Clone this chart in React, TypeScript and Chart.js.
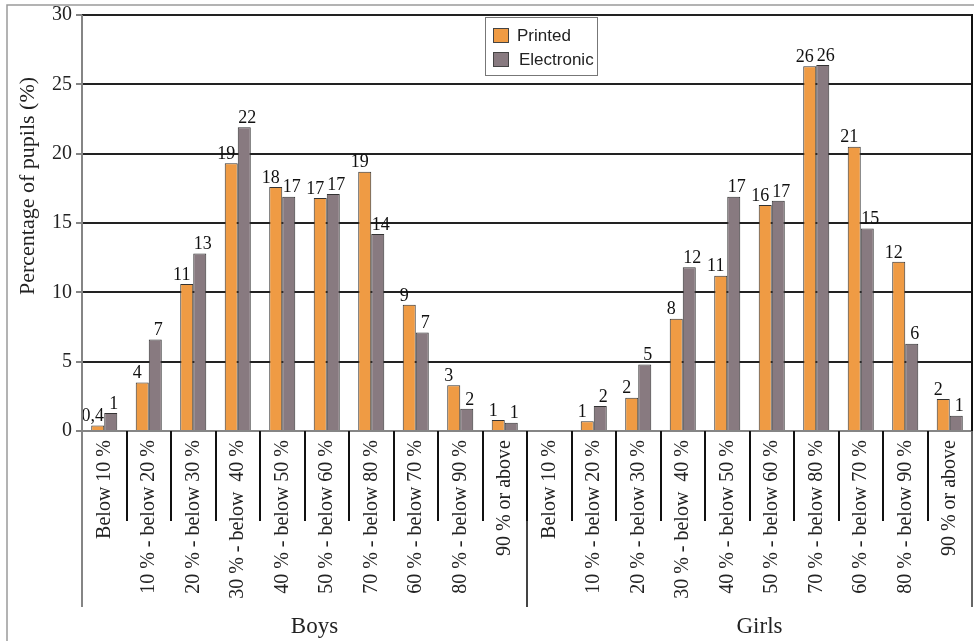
import React, { useEffect, useRef } from "react";
import { Chart, registerables } from "chart.js";

Chart.register(...registerables);

const categories = [
  "Below 10 %",
  "10 % - below 20 %",
  "20 % - below 30 %",
  "30 % - below  40 %",
  "40 % - below 50 %",
  "50 % - below 60 %",
  "70 % - below 80 %",
  "60 % - below 70 %",
  "80 % - below 90 %",
  "90 % or above",
];
const groups = ["Boys", "Girls"];

const boysPrinted = [0.4, 3.5, 10.6, 19.3, 17.6, 16.8, 18.7, 9.1, 3.3, 0.8];
const boysElectronic = [1.3, 6.6, 12.8, 21.9, 16.9, 17.1, 14.2, 7.1, 1.6, 0.6];
const girlsPrinted = [0, 0.7, 2.4, 8.1, 11.2, 16.3, 26.3, 20.5, 12.2, 2.3];
const girlsElectronic = [0, 1.8, 4.8, 11.8, 16.9, 16.6, 26.4, 14.6, 6.3, 1.1];

const seriesNames = ["Printed", "Electronic"];
const seriesColors = ["#EF9B44", "#887A80"];
const yTicks = [0, 5, 10, 15, 20, 25, 30];
const yTitle = "Percentage of pupils (%)";

const SERIF = "'Liberation Serif', 'Times New Roman', serif";
const SANS = "'Liberation Sans', Arial, sans-serif";

function fmtLabel(v: number): string {
  if (!v) return "";
  if (v < 0.5) return v.toFixed(1).replace(".", ",");
  return String(Math.round(v));
}

const decorPlugin = {
  id: "decor",
  afterDatasetsDraw(chart: any) {
    const ctx = chart.ctx;
    ctx.save();
    ctx.font = `18px ${SERIF}`;
    ctx.fillStyle = "#111";
    ctx.textAlign = "center";
    ctx.textBaseline = "bottom";
    chart.data.datasets.forEach((ds: any, di: number) => {
      const meta = chart.getDatasetMeta(di);
      meta.data.forEach((el: any, i: number) => {
        const t = fmtLabel(ds.data[i]);
        if (t) ctx.fillText(t, el.x + (di === 0 ? -5 : 3), el.y);
      });
    });
    ctx.restore();
  },
  afterDraw(chart: any) {
    const ctx = chart.ctx;
    const area = chart.chartArea;
    const n = chart.data.labels.length;
    const step = (area.right - area.left) / n;
    ctx.save();

    // outer frame
    ctx.strokeStyle = "#9a9a9a";
    ctx.lineWidth = 1.5;
    ctx.beginPath();
    ctx.moveTo(7, chart.height + 2);
    ctx.lineTo(7, 5);
    ctx.lineTo(chart.width + 2, 5);
    ctx.stroke();

    // category dividers
    for (let i = 1; i < n; i++) {
      const px = Math.round(area.left + step * i);
      const isGroup = i % categories.length === 0;
      ctx.strokeStyle = "#111";
      ctx.lineWidth = 2;
      ctx.beginPath();
      ctx.moveTo(px, area.bottom);
      ctx.lineTo(px, area.bottom + 90);
      ctx.stroke();
      if (isGroup) {
        ctx.strokeStyle = "#444";
        ctx.beginPath();
        ctx.moveTo(px, area.bottom + 90);
        ctx.lineTo(px, area.bottom + 176);
        ctx.stroke();
      }
    }
    // left axis
    ctx.strokeStyle = "#858585";
    ctx.lineWidth = 2;
    ctx.beginPath();
    ctx.moveTo(area.left, area.top);
    ctx.lineTo(area.left, area.bottom + 176);
    ctx.stroke();
    // right border
    ctx.strokeStyle = "#111";
    ctx.beginPath();
    ctx.moveTo(area.right, area.top - 1);
    ctx.lineTo(area.right, area.bottom);
    ctx.stroke();
    ctx.strokeStyle = "#666";
    ctx.beginPath();
    ctx.moveTo(area.right, area.bottom);
    ctx.lineTo(area.right, area.bottom + 176);
    ctx.stroke();

    // group labels
    ctx.fillStyle = "#222";
    ctx.font = `23px ${SERIF}`;
    ctx.textAlign = "center";
    ctx.textBaseline = "alphabetic";
    groups.forEach((g, gi) => {
      const l = area.left + step * categories.length * gi;
      const r = l + step * categories.length;
      ctx.fillText(g, (l + r) / 2 + 10, 633);
    });

    // y title
    ctx.save();
    ctx.translate(28, 186);
    ctx.rotate(-Math.PI / 2);
    ctx.font = `22px ${SERIF}`;
    ctx.textBaseline = "middle";
    ctx.fillText(yTitle, 0, 0);
    ctx.restore();

    // legend
    const lx = 485, ly = 17, lw = 112, lh = 58;
    ctx.fillStyle = "#fff";
    ctx.fillRect(lx, ly, lw, lh);
    ctx.strokeStyle = "#777";
    ctx.lineWidth = 1;
    ctx.strokeRect(lx + 0.5, ly + 0.5, lw, lh);
    ctx.font = `17px ${SANS}`;
    ctx.textAlign = "left";
    ctx.textBaseline = "middle";
    seriesNames.forEach((s, i) => {
      const sy = ly + 11 + i * 24;
      ctx.fillStyle = seriesColors[i];
      ctx.fillRect(493, sy, 15, 14);
      ctx.strokeStyle = "#444";
      ctx.strokeRect(493.5, sy + 0.5, 15, 14);
      ctx.fillStyle = "#222";
      ctx.fillText(s, i === 0 ? 517 : 519, sy + 8);
    });

    ctx.restore();
  },
};

export default function App() {
  const ref = useRef<HTMLCanvasElement | null>(null);
  useEffect(() => {
    if (!ref.current) return;
    const labels = [...categories, ...categories];
    const chart = new Chart(ref.current, {
      type: "bar",
      data: {
        labels,
        datasets: [
          {
            label: seriesNames[0],
            data: [...boysPrinted, ...girlsPrinted],
            backgroundColor: seriesColors[0],
            borderColor: "#333",
            borderWidth: 1,
            barPercentage: 1,
            categoryPercentage: 0.585,
          },
          {
            label: seriesNames[1],
            data: [...boysElectronic, ...girlsElectronic],
            backgroundColor: seriesColors[1],
            borderColor: "#333",
            borderWidth: 1,
            barPercentage: 1,
            categoryPercentage: 0.585,
          },
        ],
      },
      options: {
        animation: false,
        responsive: false,
        maintainAspectRatio: false,
        layout: { padding: { left: 0, top: 15, right: 2, bottom: 0 } },
        plugins: {
          legend: { display: false },
          tooltip: { enabled: false },
          title: { display: false },
        },
        scales: {
          x: {
            grid: { display: false, drawTicks: false },
            border: { display: false },
            ticks: {
              autoSkip: false,
              maxRotation: 90,
              minRotation: 90,
              padding: 9,
              color: "#222",
              font: { family: SERIF, size: 20 },
            },
            afterFit: (s: any) => {
              s.height = 210;
              s.paddingLeft = 0;
              s.paddingRight = 0;
            },
          },
          y: {
            min: 0,
            max: 30,
            afterBuildTicks: (s: any) => {
              s.ticks = yTicks.map((v) => ({ value: v }));
            },
            grid: {
              color: (c: any) => (c.tick && c.tick.value === 0 ? "#858585" : "#222"),
              lineWidth: 2,
              tickLength: 6,
              tickColor: "#858585",
            },
            border: { display: false },
            ticks: {
              padding: 4,
              color: "#222",
              font: { family: SERIF, size: 20 },
            },
            afterFit: (s: any) => {
              s.width = 82;
              s.paddingTop = 0;
              s.paddingBottom = 0;
            },
          },
        },
      },
      plugins: [decorPlugin],
    });
    return () => chart.destroy();
  }, []);
  return (
    <div style={{ position: "fixed", left: 0, top: 0, width: 974, height: 641, background: "#fff" }}>
      <canvas ref={ref} width={974} height={641} style={{ width: 974, height: 641 }} />
    </div>
  );
}
